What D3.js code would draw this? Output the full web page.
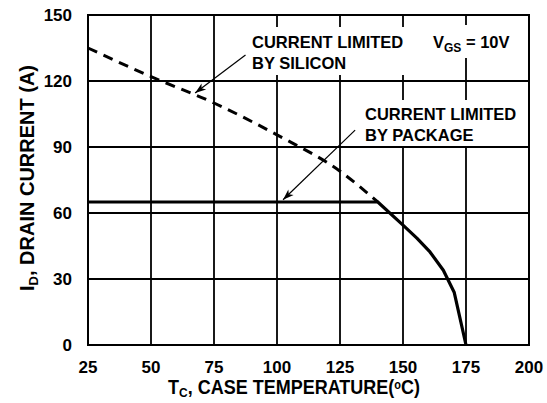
<!DOCTYPE html>
<html>
<head>
<meta charset="utf-8">
<script src="https://cdn.jsdelivr.net/npm/d3@7"></script>
<style>
  html, body { margin: 0; padding: 0; background: #fff; }
  svg { display: block; }
  text { font-family: "Liberation Sans", Arial, sans-serif; font-weight: bold; fill: #000; }
</style>
</head>
<body>
<div class="content"></div>
<script>
const w = 547;
const h = 403;

// tick values
const xTicks = [25, 50, 75, 100, 125, 150, 175, 200];
const yTicks = [0, 30, 60, 90, 120, 150];

// current limited by silicon (dashed)
const siliconTemp = [25, 50, 75, 100, 125, 140];
const siliconCurrent = [135, 122, 110, 95.5, 79, 65];

// current limited by package (solid)
const packageTemp = [25, 140, 150, 155.5, 160.7, 166, 170.3, 175];
const packageCurrent = [65, 65, 54.5, 48.6, 42.3, 34, 24, 0];

const xScale = d3.scaleLinear().domain([25, 200]).range([88, 529]);
const yScale = d3.scaleLinear().domain([0, 150]).range([345, 15]);

const svg = d3.select('.content').append('svg')
	.attr('width', w)
	.attr('height', h);

svg.append('defs').append('marker')
	.attr('id', 'arrow')
	.attr('markerUnits', 'userSpaceOnUse')
	.attr('markerWidth', 14)
	.attr('markerHeight', 10)
	.attr('viewBox', '-11 -5 12 10')
	.attr('refX', 0)
	.attr('refY', 0)
	.attr('orient', 'auto')
	.append('path')
	.attr('d', 'M-11,-3.8 L0,0 L-11,3.8 L-8,0 Z')
	.attr('fill', '#000');

// grid
const grid = svg.append('g');
grid.selectAll('.vx')
	.data(xTicks.slice(1, -1))
	.enter().append('line')
	.attr('x1', (d) => xScale(d)).attr('x2', (d) => xScale(d))
	.attr('y1', yScale(150)).attr('y2', yScale(0))
	.attr('stroke', '#000').attr('stroke-width', 1.8);
grid.selectAll('.hy')
	.data(yTicks.slice(1, -1))
	.enter().append('line')
	.attr('x1', xScale(25)).attr('x2', xScale(200))
	.attr('y1', (d) => yScale(d)).attr('y2', (d) => yScale(d))
	.attr('stroke', '#000').attr('stroke-width', 1.8);

// white label boxes covering grid
svg.append('rect').attr('x', 236).attr('y', 27).attr('width', 184).attr('height', 48).attr('fill', '#fff');
svg.append('rect').attr('x', 428).attr('y', 25).attr('width', 88).attr('height', 33).attr('fill', '#fff');
svg.append('rect').attr('x', 358).attr('y', 100).attr('width', 169).attr('height', 46).attr('fill', '#fff');

svg.append('rect')
	.attr('x', xScale(25)).attr('y', yScale(150))
	.attr('width', xScale(200) - xScale(25))
	.attr('height', yScale(0) - yScale(150))
	.attr('fill', 'none').attr('stroke', '#000').attr('stroke-width', 2);

// curves
const siliconData = siliconTemp.map((t, i) => [t, siliconCurrent[i]]);
const packageData = packageTemp.map((t, i) => [t, packageCurrent[i]]);

const line = d3.line()
	.x((d) => xScale(d[0]))
	.y((d) => yScale(d[1]));

svg.append('path')
	.attr('d', line.curve(d3.curveMonotoneX)(siliconData))
	.attr('fill', 'none').attr('stroke', '#000')
	.attr('stroke-width', 3).attr('stroke-dasharray', '10,7');

svg.append('path')
	.attr('d', line.curve(d3.curveLinear)(packageData))
	.attr('fill', 'none').attr('stroke', '#000')
	.attr('stroke-width', 3.2).attr('stroke-linejoin', 'round');

// arrows
svg.append('line')
	.attr('x1', xScale(87.5)).attr('y1', yScale(131.8))
	.attr('x2', xScale(67.5)).attr('y2', yScale(114.5))
	.attr('stroke', '#000').attr('stroke-width', 1.2)
	.attr('marker-end', 'url(#arrow)');
svg.append('line')
	.attr('x1', xScale(131)).attr('y1', yScale(97.7))
	.attr('x2', xScale(102.4)).attr('y2', yScale(66))
	.attr('stroke', '#000').attr('stroke-width', 1.2)
	.attr('marker-end', 'url(#arrow)');

// annotations
const note = (x, y, txt) => svg.append('text')
	.attr('x', x).attr('y', y)
	.style('font-size', '16.5px')
	.text(txt);
note(252, 48, 'CURRENT LIMITED');
note(252, 69, 'BY SILICON');
note(365, 120, 'CURRENT LIMITED');
note(365, 141, 'BY PACKAGE');

const vgs = svg.append('text').attr('x', 433).attr('y', 48).style('font-size', '16.5px');
vgs.append('tspan').text('V');
vgs.append('tspan').attr('dy', 4).style('font-size', '12px').text('GS');
vgs.append('tspan').attr('dy', -4).text(' = 10V');

// tick labels
svg.selectAll('.xl')
	.data(xTicks)
	.enter().append('text')
	.attr('x', (d) => xScale(d))
	.attr('y', 373)
	.attr('text-anchor', 'middle')
	.style('font-size', '17px')
	.text((d) => d);

svg.selectAll('.yl')
	.data(yTicks)
	.enter().append('text')
	.attr('x', 72)
	.attr('y', (d) => yScale(d) + 6)
	.attr('text-anchor', 'end')
	.style('font-size', '17px')
	.text((d) => d);

// axis titles
const xt = svg.append('text')
	.attr('transform', 'translate(294,394) scale(1,1.1)')
	.attr('text-anchor', 'middle')
	.style('font-size', '18px');
xt.append('tspan').text('T');
xt.append('tspan').attr('dy', 3).style('font-size', '12px').text('C');
xt.append('tspan').attr('dy', -3).text(', CASE TEMPERATURE(');
xt.append('tspan').attr('dy', -5).style('font-size', '11px').text('o');
xt.append('tspan').attr('dy', 5).text('C)');

const yt = svg.append('text')
	.attr('transform', 'translate(34,178) rotate(-90)')
	.attr('text-anchor', 'middle')
	.style('font-size', '20px');
yt.append('tspan').text('I');
yt.append('tspan').attr('dy', 4).style('font-size', '13px').text('D');
yt.append('tspan').attr('dy', -4).text(', DRAIN CURRENT (A)');
</script>
</body>
</html>
